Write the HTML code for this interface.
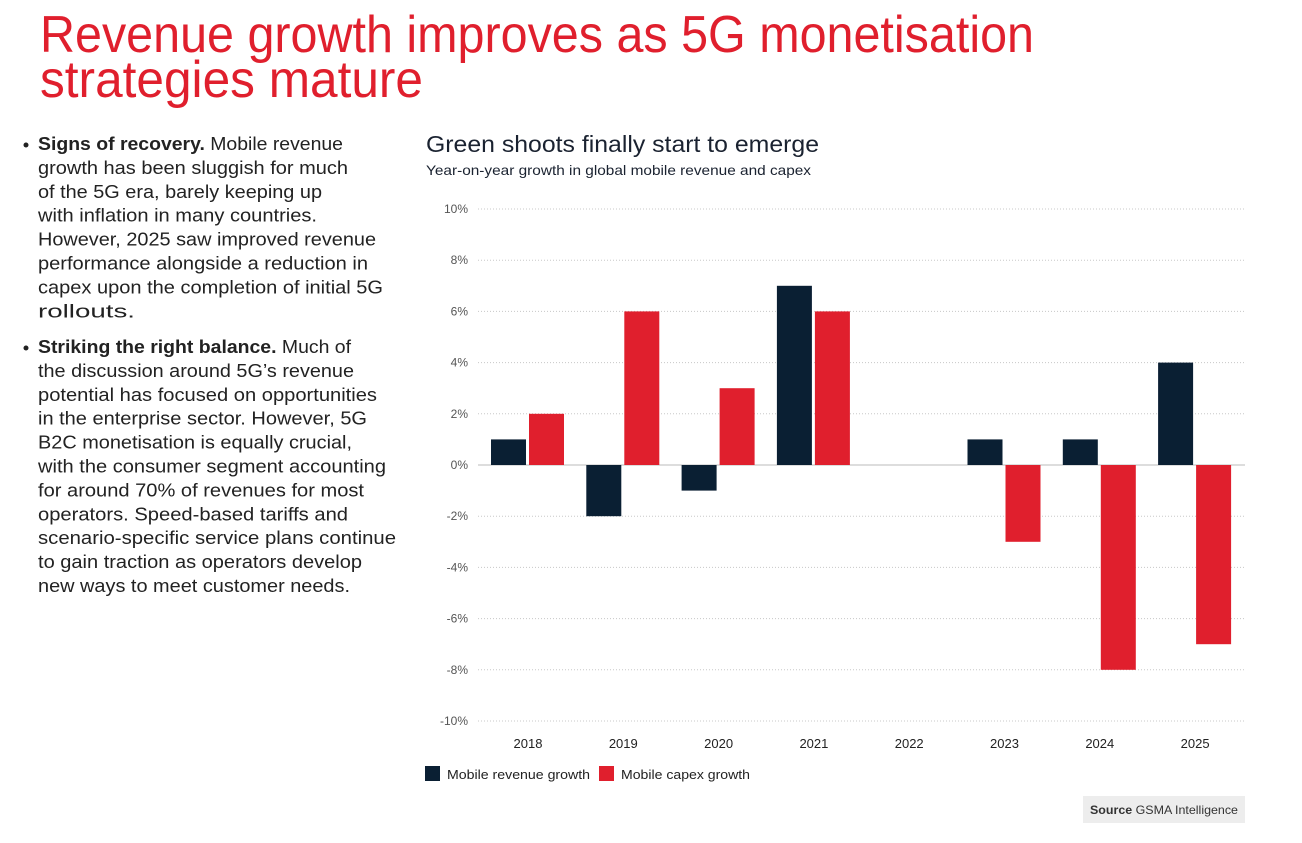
<!DOCTYPE html>
<html><head><meta charset="utf-8"><style>
body{margin:0;background:#fff;}
svg{display:block;font-family:"Liberation Sans",sans-serif;}
</style></head><body>
<svg id="s" width="1302" height="843" viewBox="0 0 1302 843">
<g fill="#e01f2d" font-size="52">
<text x="40" y="52" textLength="994" lengthAdjust="spacingAndGlyphs">Revenue growth improves as 5G monetisation</text>
<text x="40" y="97" textLength="383" lengthAdjust="spacingAndGlyphs">strategies mature</text>
</g>
<g id="body" fill="#222" font-size="18"></g>
<text x="426" y="152" font-size="23" fill="#1a2230" textLength="393" lengthAdjust="spacingAndGlyphs">Green shoots finally start to emerge</text>
<text x="426" y="175" font-size="14" fill="#1a2230" textLength="385" lengthAdjust="spacingAndGlyphs">Year-on-year growth in global mobile revenue and capex</text>
<g id="chart"></g>
<g font-size="13" fill="#222">
<rect x="425" y="766" width="15" height="15" fill="#0a1f33"/>
<text x="447" y="779" textLength="143" lengthAdjust="spacingAndGlyphs">Mobile revenue growth</text>
<rect x="599" y="766" width="15" height="15" fill="#e01f2d"/>
<text x="621" y="779" textLength="129" lengthAdjust="spacingAndGlyphs">Mobile capex growth</text>
</g>
<g>
<rect x="1083" y="796" width="162" height="27" fill="#ededed"/>
<text x="1164" y="814" font-size="12" fill="#333" text-anchor="middle" textLength="148" lengthAdjust="spacingAndGlyphs"><tspan font-weight="bold">Source</tspan> GSMA Intelligence</text>
</g>
</svg>
<script>
const categories=["2018","2019","2020","2021","2022","2023","2024","2025"];
const revenueGrowth=[1,-2,-1,7,0,1,1,4];
const capexGrowth=[2,6,3,6,0,-3,-8,-7];
const tickValues=[10,8,6,4,2,0,-2,-4,-6,-8,-10];
const NS="http://www.w3.org/2000/svg";
function mk(tag,attrs,parent){const e=document.createElementNS(NS,tag);for(const k in attrs)e.setAttribute(k,attrs[k]);parent.appendChild(e);return e;}
const chart=document.getElementById('chart');
const y=v=>465-v*25.6;
const xc=i=>528+i*95.3;
tickValues.forEach(t=>{
  const l=mk('line',{x1:478,x2:1245,y1:y(t),y2:y(t),stroke:t===0?'#bbb':'#c8c8c8','stroke-width':1,'stroke-dasharray':t===0?'':'1,2'},chart);
  
  
  const tx=mk('text',{x:468,y:y(t)+4,'text-anchor':'end','font-size':12,fill:'#555'},chart);
  tx.textContent=t+'%';
  
  
});
categories.forEach((c,i)=>{
  const tx=mk('text',{x:xc(i),y:748,'text-anchor':'middle','font-size':13,fill:'#222'},chart);
  tx.textContent=c;
  
  
  [[revenueGrowth[i],'#0a1f33',-37],[capexGrowth[i],'#e01f2d',1]].forEach(([v,col,off],k)=>{
    if(v===0)return;
    const r=mk('rect',{x:xc(i)+off,width:35,y:Math.min(y(v),y(0)),height:Math.abs(y(v)-y(0)),fill:col},chart);
    
    
  });
});
const lines=[
 [[`<tspan font-weight="bold">Signs of recovery.</tspan> Mobile revenue`,305],["growth has been sluggish for much",310],["of the 5G era, barely keeping up",284],["with inflation in many countries.",279],["However, 2025 saw improved revenue",338],["performance alongside a reduction in",330],["capex upon the completion of initial 5G",345],["rollouts.",97]],
 [[`<tspan font-weight="bold">Striking the right balance.</tspan> Much of`,313],["the discussion around 5G’s revenue",316],["potential has focused on opportunities",339],["in the enterprise sector. However, 5G",329],["B2C monetisation is equally crucial,",314],["with the consumer segment accounting",348],["for around 70% of revenues for most",326],["operators. Speed-based tariffs and",310],["scenario-specific service plans continue",358],["to gain traction as operators develop",324],["new ways to meet customer needs.",312]]
];
const body=document.getElementById('body');
[[150,lines[0]],[353,lines[1]]].forEach(([y0,ls],b)=>{
  const d=mk('circle',{cx:26,cy:y0-5,r:2.5,fill:'#222'},body);
  
  
  ls.forEach(([t,w],j)=>{
    const e=mk('text',{x:38,y:y0+j*23.9,textLength:w,lengthAdjust:'spacingAndGlyphs'},body);
    e.innerHTML=t;
  });
});
</script>
</body></html>
